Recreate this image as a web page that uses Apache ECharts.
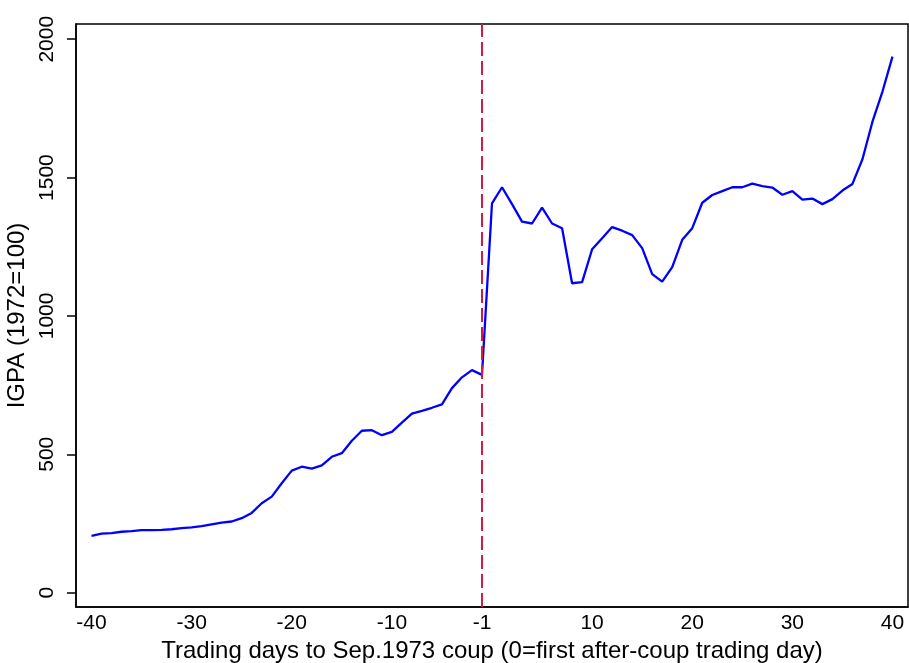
<!DOCTYPE html>
<html>
<head>
<meta charset="utf-8">
<script src="https://cdn.jsdelivr.net/npm/echarts@6/dist/echarts.min.js"></script>
<style>
html,body{margin:0;padding:0;background:#fff;}
#chart{width:909px;height:663px;}
</style>
</head>
<body>
<div id="chart"></div>
<script>
var days = [-40,-39,-38,-37,-36,-35,-34,-33,-32,-31,-30,-29,-28,-27,-26,-25,-24,-23,-22,-21,
  -20,-19,-18,-17,-16,-15,-14,-13,-12,-11,-10,-9,-8,-7,-6,-5,-4,-3,-2,-1,
  0,1,2,3,4,5,6,7,8,9,10,11,12,13,14,15,16,17,18,19,20,
  21,22,23,24,25,26,27,28,29,30,31,32,33,34,35,36,37,38,39,40];
var igpa = [205,213,215,220,222,226,226,227,229,233,236,240,247,253,257,269,288,323,347,395,
  441,455,448,460,491,504,549,585,587,569,581,614,647,657,668,680,739,778,804,787,
  1407,1465,1404,1341,1334,1391,1334,1317,1118,1122,1241,1281,1321,1308,1292,1245,1151,1124,1176,1275,1317,
  1409,1437,1451,1465,1465,1478,1469,1464,1438,1451,1420,1424,1404,1422,1453,1477,1566,1702,1811,1937];
var xTicks = [-40,-30,-20,-10,-1,10,20,30,40];
var yTicks = [0,500,1000,1500,2000];
var coupDay = -1;

var font = "'Liberation Sans', Arial, Helvetica, sans-serif";
var plain = function(v){ return String(v); };
var chart = echarts.init(document.getElementById('chart'), null, {renderer:'canvas'});
chart.setOption({
  animation:false,
  backgroundColor:'#fff',
  grid:{left:76,right:1,top:24,bottom:56,show:true,borderColor:'#000',borderWidth:1.5,
        containLabel:false,outerBoundsMode:'none'},
  xAxis:{
    type:'value', min:-41.55, max:41.55,
    name:'Trading days to Sep.1973 coup (0=first after-coup trading day)',
    nameLocation:'middle', nameGap:30,
    nameTextStyle:{fontFamily:font,fontSize:24,color:'#000'},
    axisLine:{show:true,onZero:false,lineStyle:{color:'#000',width:1.5}},
    axisTick:{show:false},
    splitLine:{show:false},
    axisLabel:{customValues:xTicks,formatter:plain,fontFamily:font,fontSize:21,color:'#000',margin:6}
  },
  yAxis:{
    type:'value', min:-52, max:2055,
    name:'IGPA (1972=100)',
    nameLocation:'middle', nameGap:40, nameRotate:90,
    nameTextStyle:{fontFamily:font,fontSize:24,color:'#000'},
    axisLine:{show:true,onZero:false,lineStyle:{color:'#000',width:1.5}},
    axisTick:{show:true,customValues:yTicks,length:9,lineStyle:{color:'#000',width:1.5}},
    splitLine:{show:false},
    axisLabel:{customValues:yTicks,formatter:plain,rotate:90,fontFamily:font,fontSize:21,color:'#000',margin:18}
  },
  series:[{
    type:'line',
    data:days.map(function(d,i){return [d,igpa[i]];}),
    showSymbol:false,
    lineStyle:{color:'#0000ff',width:2.3},
    markLine:{
      silent:true, symbol:['none','none'],
      label:{show:false},
      lineStyle:{color:'#d01c44',width:2,type:[14,5]},
      data:[{xAxis:coupDay}]
    }
  }]
});
</script>
</body>
</html>
